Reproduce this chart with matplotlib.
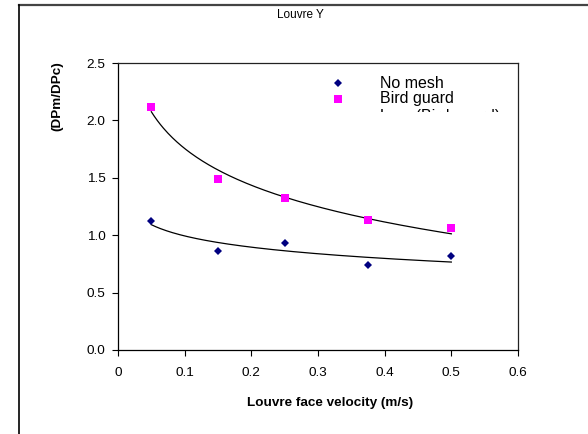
import numpy as np
import matplotlib
matplotlib.use("Agg")
import matplotlib.pyplot as plt
from matplotlib.lines import Line2D
from matplotlib.patches import Rectangle

plt.rcParams['font.family'] = ['Liberation Sans', 'DejaVu Sans']

velocity = [0.05, 0.15, 0.25, 0.375, 0.5]
no_mesh = [1.12, 0.86, 0.93, 0.74, 0.815]
bird_guard = [2.12, 1.49, 1.325, 1.13, 1.067]
series_names = ["No mesh", "Bird guard", "Log. (Bird guard)"]
xticks = [0, 0.1, 0.2, 0.3, 0.4, 0.5, 0.6]
yticks = [0.0, 0.5, 1.0, 1.5, 2.0, 2.5]

W, H = 588, 434
fig = plt.figure(figsize=(W / 100, H / 100), dpi=100)
ax = fig.add_axes([118 / W, 1 - 350 / H, 400 / W, 287 / H])

x = np.array(velocity)
for ys, col, mk, ms in [(no_mesh, '#000080', 'D', 4.5), (bird_guard, '#FF00FF', 's', 5.5)]:
    ys = np.array(ys)
    b, a = np.polyfit(np.log(x), ys, 1)
    xx = np.linspace(x.min(), x.max(), 200)
    ax.plot(xx, a + b * np.log(xx), color='black', lw=0.9, zorder=2)
    ax.plot(x, ys, linestyle='none', marker=mk, color=col, ms=ms, mew=0, zorder=3)

ax.set_xlim(0, 0.6)
ax.set_ylim(0, 2.5)
ax.set_xticks(xticks)
ax.set_xticklabels(['0' if t == 0 else f'{t:.1f}' for t in xticks])
ax.set_yticks(yticks)
ax.set_yticklabels([f'{t:.1f}' for t in yticks])
ax.tick_params(direction='out', length=4, width=0.8, labelsize=9.7, colors='black')
ax.tick_params(axis='y', pad=5)
ax.tick_params(axis='x', pad=8)
for s in ax.spines.values():
    s.set_linewidth(0.9)
    s.set_color('#222222')
ax.spines['left'].set_color('black')
ax.spines['bottom'].set_color('black')

# titles and labels
fig.text(300 / W, 1 - 15 / H, "Louvre Y", ha='center', va='center', fontsize=8.5)
fig.text(330 / W, 1 - 403 / H, "Louvre face velocity (m/s)", ha='center', va='center',
         fontsize=9.7, fontweight='bold')
fig.text(57 / W, 1 - 96 / H, "(DPm/DPc)", ha='center', va='center', rotation=90,
         fontsize=9.7, fontweight='bold')

# legend (manually placed, third entry clipped)
fig.add_artist(Line2D([338 / W], [1 - 83 / H], marker='D', color='#000080', ms=4.5, mew=0,
                      linestyle='none', transform=fig.transFigure))
fig.add_artist(Line2D([338 / W], [1 - 99 / H], marker='s', color='#FF00FF', ms=5.5, mew=0,
                      linestyle='none', transform=fig.transFigure))
fig.text(380 / W, 1 - 83 / H, series_names[0], ha='left', va='center', fontsize=11.5)
fig.text(380 / W, 1 - 99 / H, series_names[1], ha='left', va='center', fontsize=11.5)
t3 = fig.text(380 / W, 1 - 117 / H, series_names[2], ha='left', va='center', fontsize=11.5)
clip = Rectangle((370 / W, 1 - 112 / H), 170 / W, 12 / H, transform=fig.transFigure)
t3.set_clip_path(clip)
t3.set_clip_on(True)

# outer frame
fig.add_artist(Line2D([19 / W, 1], [1 - 5 / H, 1 - 5 / H], color='#444444', lw=1.6,
                      transform=fig.transFigure))
fig.add_artist(Line2D([19 / W, 19 / W], [1 - 5 / H, 0], color='black', lw=1.2,
                      transform=fig.transFigure))

fig.savefig("out.png", dpi=100)
